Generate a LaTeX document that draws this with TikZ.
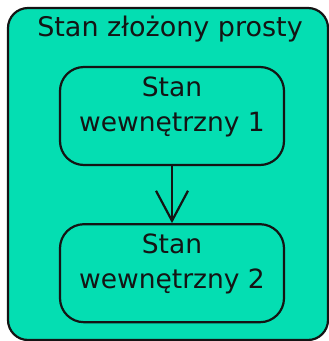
\documentclass[tikz,border=0pt]{standalone}
\usepackage{fontspec}
\setmainfont{DejaVu Sans}
\usetikzlibrary{positioning, arrows.meta}
\definecolor{StateGreen}{HTML}{04DEB2}
\definecolor{LineGray}{HTML}{141414}

\begin{document}
\begin{tikzpicture}[
  x=1pt, y=1pt,
  composite/.style={
    draw=LineGray, line width=2.2pt, rounded corners=20pt, fill=StateGreen
  },
  substate/.style={
    draw=LineGray, line width=2.2pt, rounded corners=24pt,
    minimum width=224pt, minimum height=98pt, inner sep=0pt,
    text height=64pt, text depth=34pt, align=center, text=LineGray,
    font=\fontsize{26.5}{35}\selectfont
  },
  transition/.style={-{Straight Barb[length=30pt, width=32pt]}, line width=2.2pt, LineGray},
  heading/.style={font=\fontsize{27}{32}\selectfont, text=LineGray, anchor=base}
]
  \useasboundingbox (0,0) rectangle (329,-341);

  % outer composite state with its name on top
  \draw[composite] (8,-8) rectangle (328,-340);
  \node[heading] (title) at (170,-36) {Stan złożony prosty};

  \node[substate] (w1) at (172,-116) {Stan\\wewnętrzny 1};
  \node[substate, below=57pt of w1] (w2) {Stan\\wewnętrzny 2};

  \draw[transition] (w1) -- (w2);
\end{tikzpicture}
\end{document}
